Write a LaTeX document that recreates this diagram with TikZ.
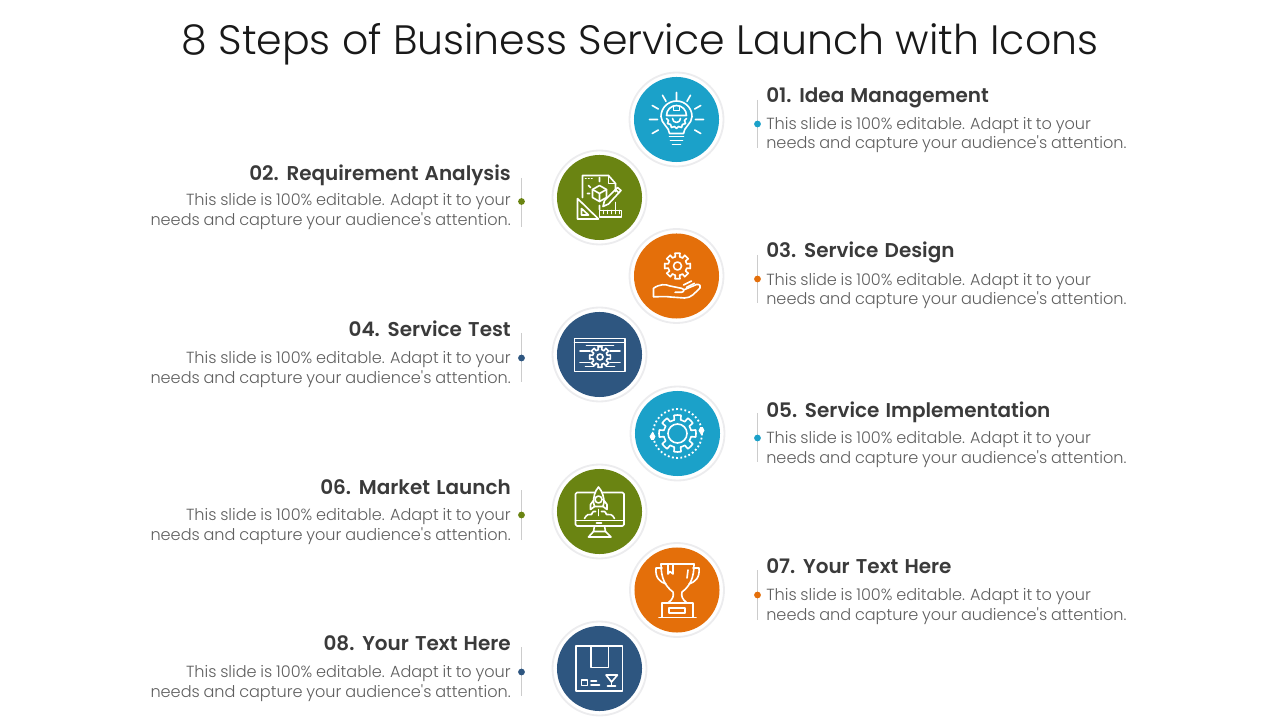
\documentclass[tikz,border=0pt]{standalone}
\usepackage{fontspec}
\setmainfont{Poppins Light}
\newfontfamily\bodyfont[WordSpace=0.85]{Poppins Light}
\newfontfamily\headfont[WordSpace=1.3]{Poppins SemiBold}
\usetikzlibrary{calc}
\definecolor{stepblue}{RGB}{27,161,201}
\definecolor{stepgreen}{RGB}{106,132,18}
\definecolor{steporange}{RGB}{228,111,10}
\definecolor{stepnavy}{RGB}{46,86,128}
\definecolor{headtext}{RGB}{58,58,58}
\definecolor{bodytext}{RGB}{95,95,95}
\definecolor{ringtint}{RGB}{236,236,238}
\tikzset{
  ring/.style={circle,fill=white,draw=ringtint,line width=1.3pt,minimum size=2.35cm,inner sep=0pt},
  disc/.style={circle,minimum size=2.125cm,inner sep=0pt},
  tickline/.style={draw=black!20,line width=0.6pt},
  tickdot/.style={circle,minimum size=0.17cm,inner sep=0pt},
  headright/.style={anchor=west,inner sep=0pt,text=headtext,font=\headfont\fontsize{14.2}{17}\selectfont},
  headleft/.style={anchor=east,inner sep=0pt,text=headtext,font=\headfont\fontsize{14.2}{17}\selectfont},
  bodyright/.style={anchor=west,inner sep=0pt,align=left,text=bodytext,font=\bodyfont\fontsize{11.45}{13.7}\selectfont},
  bodyleft/.style={anchor=east,inner sep=0pt,align=right,text=bodytext,font=\bodyfont\fontsize{11.45}{13.7}\selectfont},
  iconline/.style={draw=white,line width=1.15pt,line cap=round,line join=round},
}
% gear outline: centre x, centre y, inner radius, outer radius, hole radius
\newcommand{\gearicon}[5]{
  \foreach \a in {0,45,...,315} {
    \draw [iconline] (#1,#2) ++(\a-13:#3) -- ($(#1,#2)+(\a-11:#4)$) arc (\a-11:\a+11:#4) -- ($(#1,#2)+(\a+13:#3)$) arc (\a+13:\a+32:#3);
  }
  \draw [iconline] (#1,#2) circle (#5);
}
\begin{document}
\begin{tikzpicture}[x=0.025cm,y=-0.025cm]
\useasboundingbox (0,0) rectangle (1280,720);

%% title
\node [text=black!90,font=\fontsize{29.2}{36}\selectfont] (title) at (640,44) {8 Steps of Business Service Launch with Icons};

%% circles
\node [ring] (ring1) at (676.5,119.5) {};
\node [disc,fill=stepblue] (disc1) at (676.5,119.5) {};
\node [ring] (ring2) at (599.5,197.5) {};
\node [disc,fill=stepgreen] (disc2) at (599.5,197.5) {};
\node [ring] (ring3) at (676.5,276) {};
\node [disc,fill=steporange] (disc3) at (676.5,276) {};
\node [ring] (ring4) at (599.5,354.5) {};
\node [disc,fill=stepnavy] (disc4) at (599.5,354.5) {};
\node [ring] (ring5) at (677.5,433.5) {};
\node [disc,fill=stepblue] (disc5) at (677.5,433.5) {};
\node [ring] (ring6) at (599.5,511.5) {};
\node [disc,fill=stepgreen] (disc6) at (599.5,511.5) {};
\node [ring] (ring7) at (677,590) {};
\node [disc,fill=steporange] (disc7) at (677,590) {};
\node [ring] (ring8) at (599.5,668.5) {};
\node [disc,fill=stepnavy] (disc8) at (599.5,668.5) {};

%% ticks and dots
\coordinate (tick1a) at (757.5,100); \coordinate (tick1b) at (757.5,148);
\coordinate (tick2a) at (521.5,178); \coordinate (tick2b) at (521.5,227);
\coordinate (tick3a) at (757.5,255); \coordinate (tick3b) at (757.5,303);
\coordinate (tick4a) at (521.5,333); \coordinate (tick4b) at (521.5,382);
\coordinate (tick5a) at (757.5,413); \coordinate (tick5b) at (757.5,462);
\coordinate (tick6a) at (521.5,490); \coordinate (tick6b) at (521.5,540);
\coordinate (tick7a) at (757.5,570); \coordinate (tick7b) at (757.5,620);
\coordinate (tick8a) at (521.5,647); \coordinate (tick8b) at (521.5,696);
\draw [tickline] (tick1a) -- (tick1b);
\draw [tickline] (tick2a) -- (tick2b);
\draw [tickline] (tick3a) -- (tick3b);
\draw [tickline] (tick4a) -- (tick4b);
\draw [tickline] (tick5a) -- (tick5b);
\draw [tickline] (tick6a) -- (tick6b);
\draw [tickline] (tick7a) -- (tick7b);
\draw [tickline] (tick8a) -- (tick8b);
\node [tickdot,fill=stepblue] (dot1) at (757.5,124) {};
\node [tickdot,fill=stepgreen] (dot2) at (521.5,201.5) {};
\node [tickdot,fill=steporange] (dot3) at (757.5,279) {};
\node [tickdot,fill=stepnavy] (dot4) at (521.5,358) {};
\node [tickdot,fill=stepblue] (dot5) at (757.5,438) {};
\node [tickdot,fill=stepgreen] (dot6) at (521.5,515) {};
\node [tickdot,fill=steporange] (dot7) at (757.5,595) {};
\node [tickdot,fill=stepnavy] (dot8) at (521.5,672) {};

%% texts
% right side
\node [headright] (head1) at (766,97.5) {01. Idea Management};
\node [bodyright] (body1) at (766,135) {This slide is 100\% editable. Adapt it to your\\needs and capture your audience's attention.};
\node [headright] (head3) at (766,252.5) {03. Service Design};
\node [bodyright] (body3) at (766,291) {This slide is 100\% editable. Adapt it to your\\needs and capture your audience's attention.};
\node [headright] (head5) at (766,412.5) {05. Service Implementation};
\node [bodyright] (body5) at (766,449.5) {This slide is 100\% editable. Adapt it to your\\needs and capture your audience's attention.};
\node [headright] (head7) at (766,566.5) {07. Your Text Here};
\node [bodyright] (body7) at (766,606.5) {This slide is 100\% editable. Adapt it to your\\needs and capture your audience's attention.};
% left side
\node [headleft] (head2) at (511,175.5) {02. Requirement Analysis};
\node [bodyleft] (body2) at (511,211.5) {This slide is 100\% editable. Adapt it to your\\needs and capture your audience's attention.};
\node [headleft] (head4) at (511,329) {04. Service Test};
\node [bodyleft] (body4) at (511,369.5) {This slide is 100\% editable. Adapt it to your\\needs and capture your audience's attention.};
\node [headleft] (head6) at (511,487.5) {06. Market Launch};
\node [bodyleft] (body6) at (511,526.5) {This slide is 100\% editable. Adapt it to your\\needs and capture your audience's attention.};
\node [headleft] (head8) at (511,643.5) {08. Your Text Here};
\node [bodyleft] (body8) at (511,683.5) {This slide is 100\% editable. Adapt it to your\\needs and capture your audience's attention.};

%% icons
% 1 bulb with helmet
\begin{scope}[shift={(676.5,119.5)}]
\draw [iconline] (-7,14) .. controls (-7,8) and (-15.5,4) .. (-15.5,-3) arc (180:360:15.5) .. controls (15.5,4) and (7,8) .. (7,14) -- cycle;
\draw [iconline] (-7,17) -- (7,17) (-6,21) -- (6,21) (-4,25) -- (4,25);
\draw [iconline] (0:19) -- (0:27) (180:19) -- (180:27) (210:21) -- (210:28) (240:21) -- (240:28) (270:19) -- (270:27) (300:21) -- (300:28) (330:21) -- (330:28) (30:21) -- (30:28) (150:21) -- (150:28);
\draw [iconline] (-10,-4) arc (180:360:10) -- cycle;
\draw [iconline] (-3,-13.5) -- (-3,-9) -- (3,-9) -- (3,-13.5);
\draw [iconline] (-10,-1) -- (-8,1) -- (-9,4) -- (-6,5) -- (-5,8) -- (-2,7) -- (0,9) -- (2,7) -- (5,8) -- (6,5) -- (9,4) -- (8,1) -- (10,-1);
\draw [iconline] (-4,-1) arc (180:0:4);
\end{scope}
% 2 drawing tools
\begin{scope}[shift={(599.5,197.5)}]
\draw [iconline] (-17,0) -- (-17,-22) -- (9,-22) -- (16,-14) -- (16,-6);
\draw [iconline] (9,-22) -- (9,-14) -- (16,-14);
\draw [iconline] (16,5) -- (16,12);
\draw [iconline] (-14,-19) -- (-13.5,-19) (-11,-19) -- (-10.5,-19) (-8,-19) -- (-7.5,-19);
\draw [iconline] (-7,-8) -- (0,-12) -- (7,-8) -- (7,0) -- (0,4) -- (-7,0) -- cycle;
\draw [iconline] (-7,-8) -- (0,-4) -- (7,-8) (0,-4) -- (0,4);
\draw [iconline] (0,-20) -- (0,-16) (0,8) -- (0,12) (-12,-4) -- (-10,-4) (-11,-12) -- (-9,-10);
\draw [iconline] (-22,1) -- (-22,21.5) -- (-1,21.5) -- cycle;
\draw [iconline] (-18,11) -- (-18,17.5) -- (-11,17.5) -- cycle;
\draw [iconline] (0,13) rectangle (22,19.5);
\draw [iconline] (4,13) -- (4,16) (8,13) -- (8,16) (12,13) -- (12,16) (16,13) -- (16,16) (20,13) -- (20,16);
\draw [iconline] (3.5,9) -- (5,3) -- (18,-10) -- (21.5,-7) -- (9,6.5) -- cycle;
\draw [iconline] (16,-8) -- (19,-5);
\end{scope}
% 3 hand with gear
\begin{scope}[shift={(676.5,276)}]
\gearicon{1}{-10}{9.5}{13}{4}
\draw [iconline] (-23,20.7) -- (-23,12.3) .. controls (-17,8) and (-11,8) .. (-6.5,10) -- (5,12.3) .. controls (8,13) and (8,16) .. (5,16.3) -- (-1.5,16.3);
\draw [iconline] (7,14) -- (20,8.5) .. controls (23,8) and (25,10) .. (23.5,12) .. controls (18,17) and (15,22) .. (8,22) -- (-6,21) .. controls (-12,20) and (-18,21) .. (-23,20.7);
\draw [iconline] (7,9) -- (15,5) (10,11.3) -- (18,7.3);
\end{scope}
% 4 browser window with gear
\begin{scope}[shift={(599.5,354.5)}]
\draw [iconline] (-25,-16) rectangle (25.5,17);
\draw [iconline] (-25,-12) -- (25.5,-12);
\draw [iconline] (-13,-9) -- (14,-9) (-19.5,-3.5) -- (-9.5,-3.5) (10.5,-3.5) -- (20.5,-3.5);
\draw [iconline] (-19.5,8) -- (-9.5,8) (10.5,8) -- (20.5,8) (-14,12) -- (-6,12) (7,12) -- (15,12);
\gearicon{0.5}{2.5}{7.5}{10.5}{3}
\end{scope}
% 5 gear in dotted circle
\begin{scope}[shift={(677.5,433.5)}]
\gearicon{0}{0}{14}{18.5}{9.5}
\draw [draw=white,line width=1.3pt,dash pattern=on 1.3pt off 1.7pt] (0,0) circle (24.5);
\draw [draw=white,fill=white,line width=0.6pt] (-25,-1) -- (-22.5,3) -- (-24,6) -- (-26,6) -- (-27.5,3) -- cycle;
\draw [draw=white,fill=white,line width=0.6pt] (24,1) -- (26.5,-3) -- (25,-6) -- (23,-6) -- (21.5,-3) -- cycle;
\end{scope}
% 6 monitor with rocket
\begin{scope}[shift={(599.5,511.5)}]
\draw [iconline,rounded corners=1pt] (-24,-19) rectangle (24.5,14.5);
\draw [iconline] (-24,9) -- (24.5,9);
\draw [iconline] (-3,11.5) -- (2,11.5);
\draw [iconline] (-5,14.5) -- (-6,20) -- (6,20) -- (5,14.5);
\draw [iconline] (-11,25.5) -- (11.5,25.5) -- (6,20) (-11,25.5) -- (-6,20);
\draw [iconline,fill=stepgreen] (-1,-24.5) .. controls (-5,-20) and (-6,-14) .. (-6,-9) -- (-5,-5) -- (3.5,-5) -- (4.5,-9) .. controls (4.5,-14) and (3,-20) .. (-1,-24.5) -- cycle;
\draw [iconline] (-6,-11) -- (-9,-7) -- (-9,-2) -- (-5,-5) (4.5,-11) -- (7.5,-7) -- (7.5,-2) -- (3.5,-5);
\draw [iconline] (-1,-12) circle (3.5);
\draw [iconline] (-1,-2) -- (-1,4);
\draw [iconline] (-15,7) .. controls (-13,3) and (-10,2) .. (-8,3) .. controls (-7,0) and (-5,-1) .. (-4,0) (2,0) .. controls (4,-1) and (6,0) .. (7,3) .. controls (10,2) and (13,3) .. (15,7);
\end{scope}
% 7 trophy
\begin{scope}[shift={(677,590)}]
\draw [iconline] (-16,-26) -- (17,-26);
\draw [iconline] (-16,-26) .. controls (-16,-12) and (-12,-4) .. (-4,2) .. controls (-3,6) and (-4,9) .. (-9,13);
\draw [iconline] (17,-26) .. controls (17,-12) and (13,-4) .. (5,2) .. controls (4,6) and (5,9) .. (10,13);
\draw [iconline] (-15,-22) -- (-21,-22) .. controls (-22,-12) and (-17,-8) .. (-11,-6);
\draw [iconline] (16,-22) -- (22,-22) .. controls (23,-12) and (18,-8) .. (12,-6);
\draw [iconline] (-9,-26) -- (-9,-16) -- (-7,-18.5) -- (-4,-16) -- (-4,-26);
\draw [iconline] (11,-20) -- (10,-12);
\draw [iconline] (-15,27) -- (-15,13) -- (16,13) -- (16,27);
\draw [iconline] (-8,18) rectangle (8,23);
\draw [iconline] (-18,27.5) -- (19,27.5);
\end{scope}
% 8 parcel
\begin{scope}[shift={(599.5,668.5)}]
\draw [iconline] (-23.5,-22.5) rectangle (23,22.5);
\draw [iconline] (-8.5,-22.5) -- (-8.5,-1) -- (9,-1) -- (9,-22.5);
\draw [iconline] (-18,11.5) rectangle (-12,17);
\draw [iconline] (-8.5,12.5) -- (-3,12.5) (-8.5,16.5) -- (0,16.5);
\draw [iconline] (6.5,6.5) -- (18,6.5) -- (12,13.5) -- cycle;
\draw [iconline] (12,13.5) -- (12,17.5) (8,17.5) -- (16,17.5);
\end{scope}

\end{tikzpicture}
\end{document}
